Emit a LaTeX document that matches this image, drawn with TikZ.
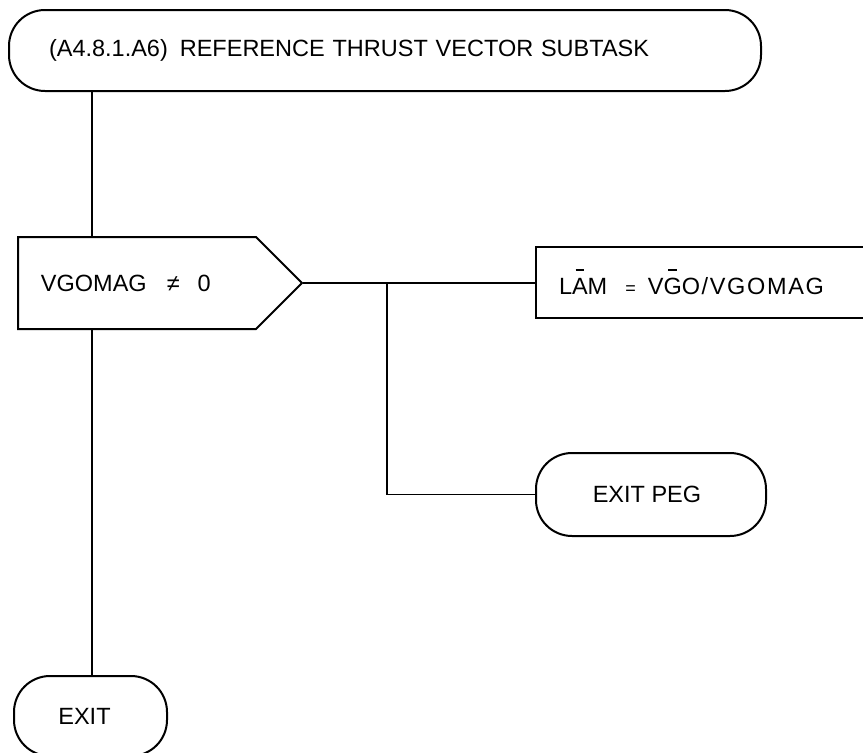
\documentclass[tikz,border=0pt]{standalone}
\usepackage{fontspec}
\setmainfont{Liberation Sans}
\usetikzlibrary{shapes.symbols}
\newcommand\ovbar[1]{\setbox0\hbox{#1}\rlap{\hbox to \wd0{\hss\rule[24pt]{8.5pt}{2pt}\hss}}\box0}
\begin{document}
\begin{tikzpicture}[x=1pt,y=-1pt, line width=2pt,
  every node/.style={font=\fontsize{23.5}{28}\selectfont, inner sep=0pt},
  term/.style={draw, rounded corners=36pt, align=left},
  proc/.style={draw, align=left},
  decis/.style={draw, shape=signal, signal to=east, signal pointer angle=90, align=left},
  conn/.style={line width=1.9pt}]
\useasboundingbox (0,0) rectangle (863,753);

\node[term, anchor=north west, minimum height=81pt, text width=672pt, inner xsep=40pt] (start) at (8,9)
  {(A4.8.1.A6)\hspace{12pt}REFERENCE THRUST VECTOR SUBTASK};

\node[decis, anchor=west, minimum height=92pt, text width=192pt, inner xsep=23pt] (dec) at (17,283)
  {VGOMAG\hspace{20pt}≠\hspace{18pt}0};

\node[proc, anchor=west, minimum height=71pt, text width=300pt, inner xsep=23pt] (lam) at (535,282)
  {\addfontfeature{LetterSpace=7}L\ovbar{A}M\hspace{18pt}{\fontsize{18}{20}\selectfont =}\hspace{12pt}V\ovbar{G}O/VGOMAG};

\node[term, anchor=west, minimum height=83pt, minimum width=230pt, align=center] (peg) at (535,494.5)
  {EXIT PEG\hspace{8pt}};

\node[term, anchor=north west, minimum height=80pt, minimum width=153pt, align=center] (exit) at (13,675)
  {EXIT\hspace{12pt}};

\coordinate (vx) at (92,0);
\coordinate (jn) at (387,0);

\draw[conn] (vx |- start.south) -- (vx |- dec.north);
\draw[conn] (vx |- dec.south) -- (vx |- exit.north);
\draw[conn] (dec.east) -- (dec.east -| lam.west);
\draw[conn] (jn |- dec.east) |- (peg.west);
\end{tikzpicture}
\end{document}
